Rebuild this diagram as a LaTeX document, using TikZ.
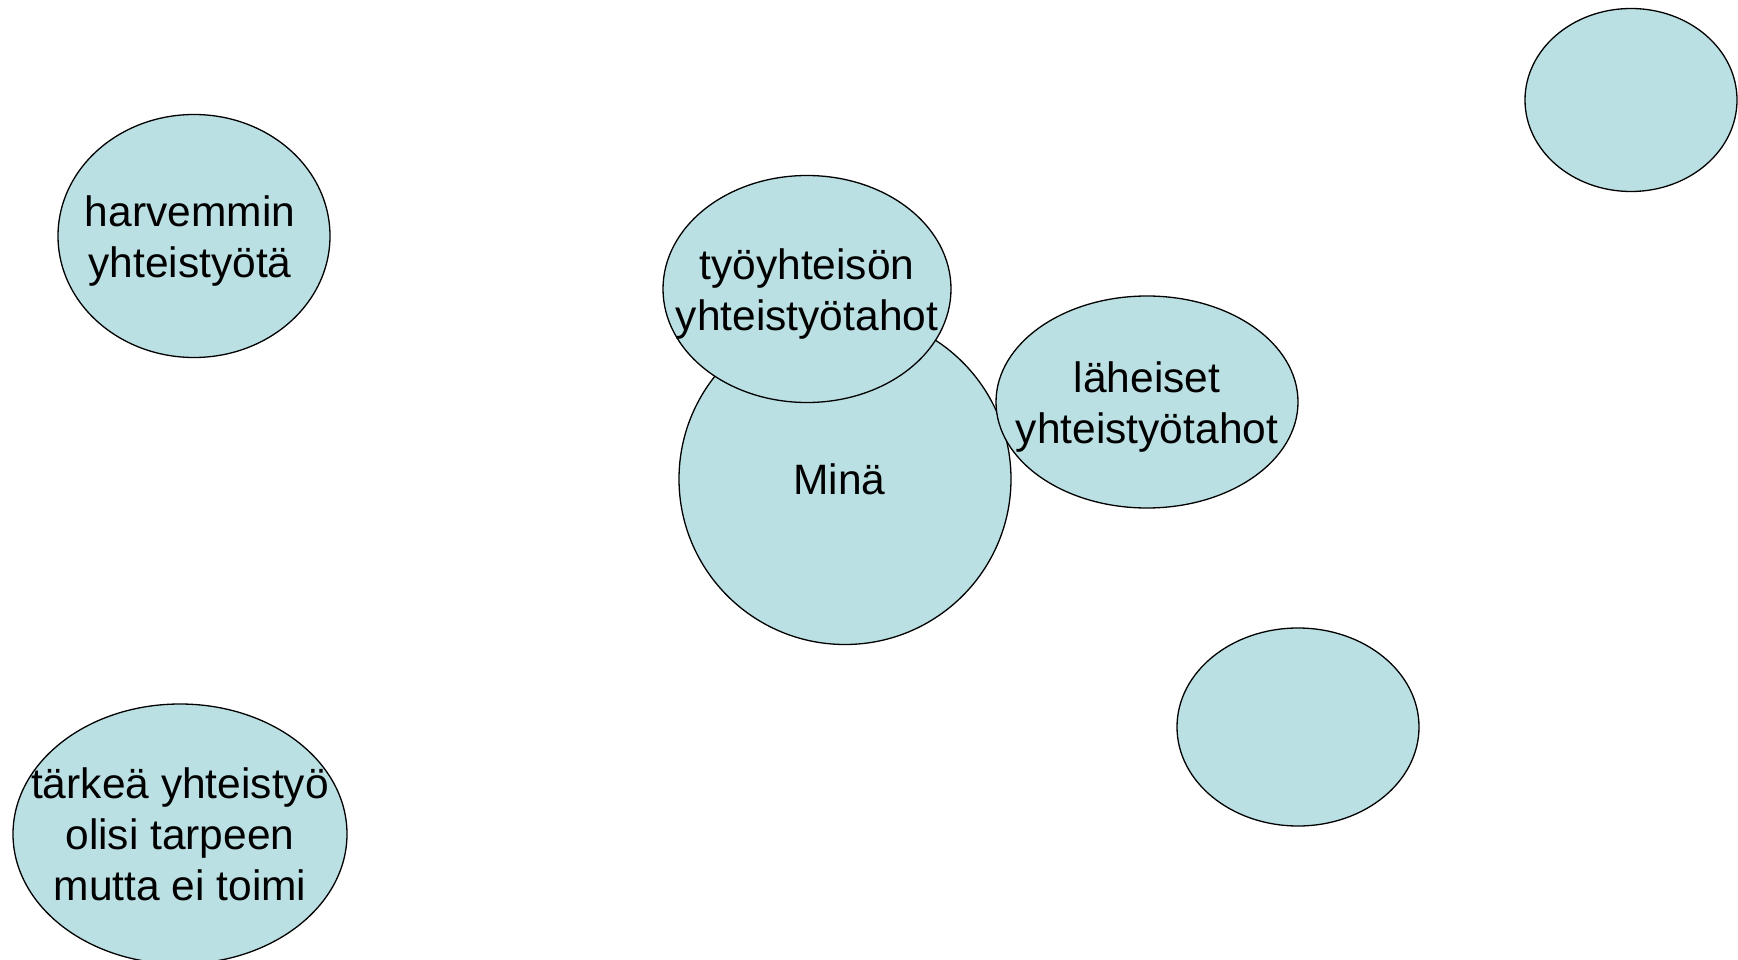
\documentclass[tikz,border=0pt]{standalone}
\usepackage{fontspec}
\setmainfont{Liberation Sans}
\usetikzlibrary{shapes.geometric}
\definecolor{bubblefill}{HTML}{BBE0E3}

\tikzset{
  bubble/.style  = {shape=ellipse, draw=black, line width=1.3pt,
                    fill=bubblefill, inner sep=0pt},
  caption/.style = {align=center, inner sep=0pt,
                    font=\fontsize{42.5}{51}\selectfont},
  twolines/.style = {caption, yshift=-5.5pt},
  selfnode/.style = {bubble}
}

\begin{document}
\begin{tikzpicture}[x=1pt, y=-1pt]
\useasboundingbox (0,0) rectangle (1738,960);
\node[bubble, minimum width=272pt, minimum height=243pt,
      label={[twolines, xshift=-4pt]center:harvemmin\\yhteistyötä}] (harvemmin) at (194,236) {};
\node[selfnode, minimum width=332pt, minimum height=331pt,
      label={[caption, xshift=-5.5pt]center:Minä}] (mina) at (845,479) {};
\node[bubble, minimum width=288pt, minimum height=227pt,
      label={[twolines]center:työyhteisön\\yhteistyötahot}] (tyoyhteiso) at (807,289) {};
\node[bubble, minimum width=302pt, minimum height=212pt,
      label={[twolines]center:läheiset\\yhteistyötahot}] (laheiset) at (1147,402) {};
\node[bubble, minimum width=212pt, minimum height=183pt] (empty1) at (1631,100) {};
\node[bubble, minimum width=242pt, minimum height=198pt] (empty2) at (1298,727) {};
\node[bubble, minimum width=334pt, minimum height=260pt,
      label={[caption]center:tärkeä yhteistyö\\olisi tarpeen\\mutta ei toimi}] (tarkea) at (180,834) {};
\end{tikzpicture}
\end{document}
